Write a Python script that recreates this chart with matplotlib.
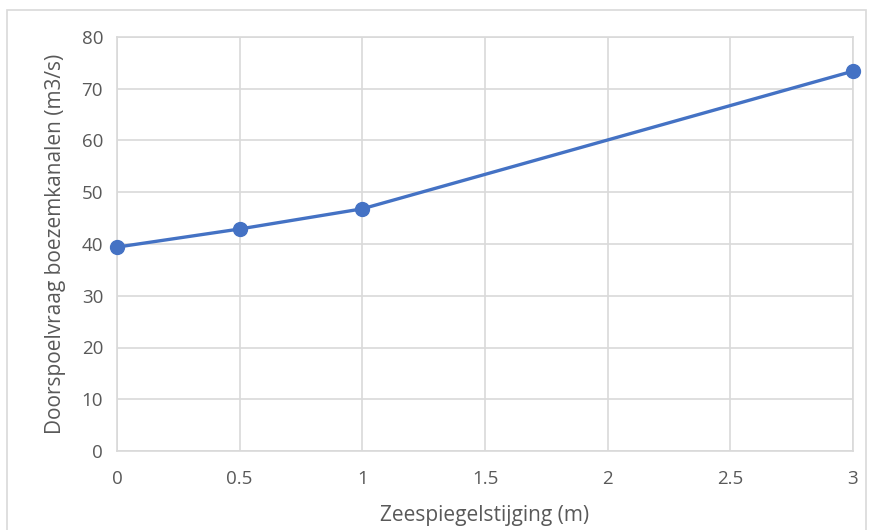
import matplotlib
matplotlib.use("Agg")
import matplotlib.pyplot as plt
from matplotlib.patches import Rectangle

# data
zeespiegel_m = [0, 0.5, 1, 3]
doorspoelvraag = [39.4, 42.9, 46.8, 73.4]
x_ticks = [0, 0.5, 1, 1.5, 2, 2.5, 3]
x_tick_labels = ["0", "0.5", "1", "1.5", "2", "2.5", "3"]
y_ticks = [0, 10, 20, 30, 40, 50, 60, 70, 80]

plt.rcParams["font.family"] = ["Open Sans", "DejaVu Sans"]

fig = plt.figure(figsize=(8.73, 5.3), dpi=100)
ax = fig.add_axes([117 / 873, 1 - 451 / 530, (853 - 117) / 873, (451 - 37) / 530])

ax.plot(zeespiegel_m, doorspoelvraag, color="#4472C4", linewidth=2.4,
        marker="o", markersize=10, zorder=3, clip_on=False)

ax.set_xlim(0, 3)
ax.set_ylim(0, 80)
ax.set_xticks(x_ticks)
ax.set_xticklabels(x_tick_labels)
ax.set_yticks(y_ticks)
ax.grid(True, color="#d9d9d9", linewidth=1.2)
ax.set_axisbelow(True)
for side in ax.spines.values():
    side.set_color("#d9d9d9")
    side.set_linewidth(1.2)
ax.tick_params(length=0, colors="#595959", labelsize=13.5)
ax.tick_params(axis="x", pad=14)
ax.tick_params(axis="y", pad=10)

ax.set_xlabel("Zeespiegelstijging (m)", fontsize=15, color="#595959", labelpad=12)
ax.set_ylabel("Doorspoelvraag boezemkanalen (m3/s)", fontsize=15, color="#595959", labelpad=11)

fig.patches.append(Rectangle((7 / 873, -0.01), (866 - 7) / 873, 1 - 10 / 530 + 0.01,
                             transform=fig.transFigure, fill=False,
                             edgecolor="#d9d9d9", linewidth=1.2))

fig.savefig("out.png", dpi=100)
